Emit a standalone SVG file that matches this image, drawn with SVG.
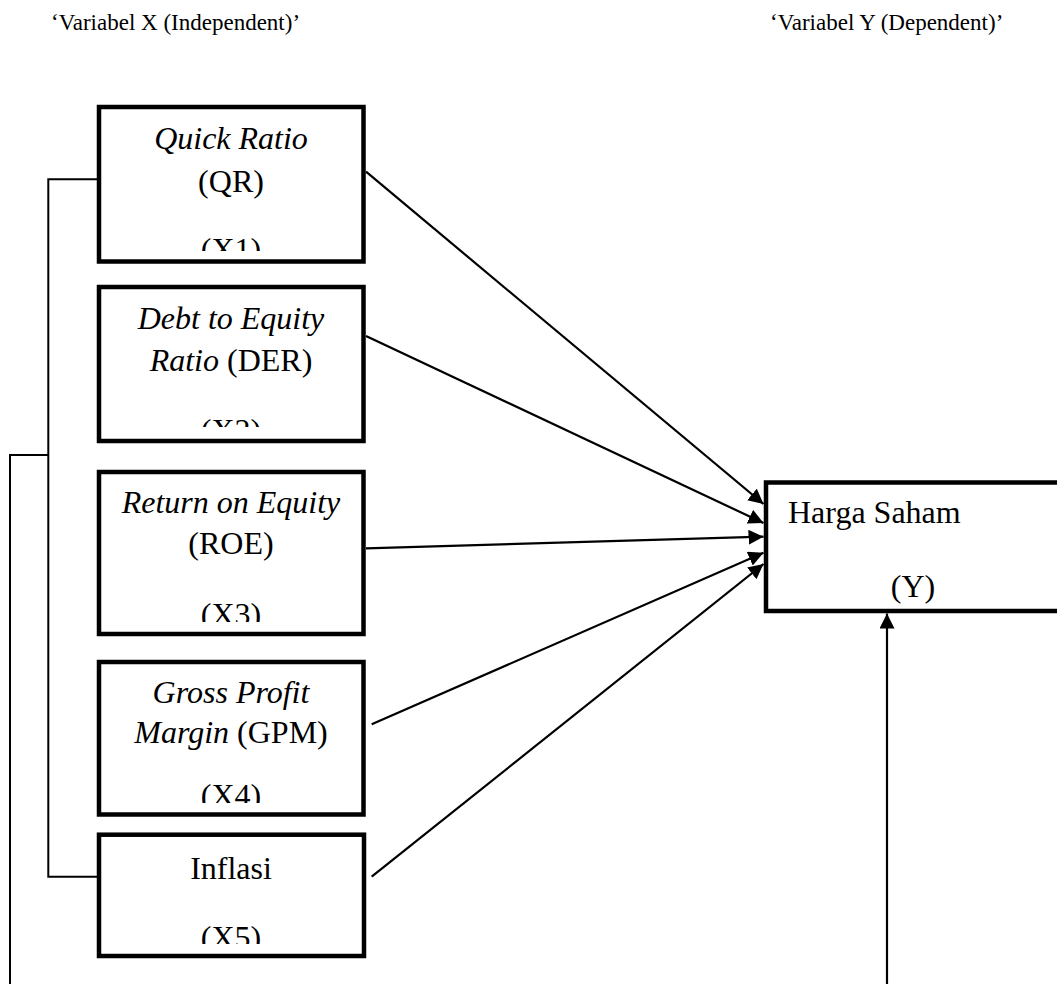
<svg xmlns="http://www.w3.org/2000/svg" width="1057" height="984" viewBox="0 0 1057 984">
<style>
.box{fill:#fff;stroke:#000;stroke-width:4.5}
.t{font-family:"Liberation Serif","Times New Roman",serif;font-size:32px;fill:#000;text-anchor:middle}
.i{font-style:italic}
.h{font-family:"Liberation Serif","Times New Roman",serif;font-size:23px;fill:#000}
.ln{fill:none;stroke:#000;stroke-width:2}
.ar{fill:none;stroke:#000;stroke-width:2.2;marker-end:url(#ah)}
</style>
<defs>
<marker id="ah" markerUnits="userSpaceOnUse" markerWidth="17" markerHeight="16" refX="15" refY="7.5" orient="auto">
<path d="M0,0 L15,7.5 L0,15 z" fill="#000"/>
</marker>
<clipPath id="c1"><rect x="101" y="109" width="260" height="142"/></clipPath>
<clipPath id="c2"><rect x="101" y="289" width="260" height="138"/></clipPath>
<clipPath id="c3"><rect x="101" y="474" width="260" height="148"/></clipPath>
<clipPath id="c4"><rect x="101" y="664" width="260" height="139"/></clipPath>
<clipPath id="c5"><rect x="101" y="837" width="260" height="107"/></clipPath>
</defs>
<rect width="1057" height="984" fill="#fff"/>
<text class="h" x="51" y="30">‘Variabel X (Independent)’</text>
<text class="h" x="770" y="30">‘Variabel Y (Dependent)’</text>
<g id="connectors">
<polyline class="ln" points="97,179.3 48.3,179.3 48.3,876.7 97,876.7"/>
<polyline class="ln" points="48.3,455 10,455 10,984"/>
<line class="ar" x1="366" y1="171.7" x2="763.5" y2="504"/>
<line class="ar" x1="366" y1="336" x2="763.5" y2="523"/>
<line class="ar" x1="366" y1="548.3" x2="763.5" y2="536.7"/>
<line class="ar" x1="371.7" y1="724.3" x2="763.5" y2="552.7"/>
<line class="ar" x1="371.7" y1="876.7" x2="763.5" y2="564"/>
<line class="ar" x1="887" y1="984" x2="887" y2="613.5"/>
</g>
<g id="x1">
<rect class="box" x="99" y="107" width="264.5" height="154.5"/>
<g clip-path="url(#c1)">
<text class="t i" x="231" y="149">Quick Ratio</text>
<text class="t" x="231" y="192">(QR)</text>
<text class="t" x="231" y="260">(X1)</text>
</g>
</g>
<g id="x2">
<rect class="box" x="99" y="287" width="264.5" height="154"/>
<g clip-path="url(#c2)">
<text class="t i" x="231" y="329">Debt to Equity</text>
<text class="t" x="231" y="371"><tspan class="i">Ratio</tspan> (DER)</text>
<text class="t" x="231" y="441">(X2)</text>
</g>
</g>
<g id="x3">
<rect class="box" x="99" y="472" width="264.5" height="162"/>
<g clip-path="url(#c3)">
<text class="t i" x="231" y="513">Return on Equity</text>
<text class="t" x="231" y="554">(ROE)</text>
<text class="t" x="231" y="625">(X3)</text>
</g>
</g>
<g id="x4">
<rect class="box" x="99" y="662" width="264.5" height="152.5"/>
<g clip-path="url(#c4)">
<text class="t i" x="231" y="703">Gross Profit</text>
<text class="t" x="231" y="743"><tspan class="i">Margin</tspan> (GPM)</text>
<text class="t" x="231" y="806">(X4)</text>
</g>
</g>
<g id="x5">
<rect class="box" x="99" y="834.7" width="265" height="121.3"/>
<g clip-path="url(#c5)">
<text class="t" x="231" y="879">Inflasi</text>
<text class="t" x="231" y="948">(X5)</text>
</g>
</g>
<g id="y">
<rect class="box" x="766" y="482.5" width="300" height="128.5"/>
<text class="t" x="788" y="523" style="text-anchor:start">Harga Saham</text>
<text class="t" x="913" y="597">(Y)</text>
</g>
</svg>
